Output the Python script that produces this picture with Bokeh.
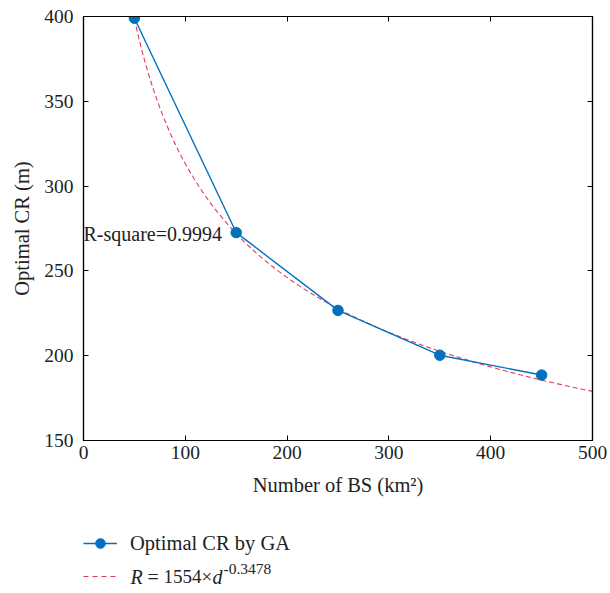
from bokeh.plotting import figure
from bokeh.layouts import column
from bokeh.models import (Range1d, LinearAxis, Label, Legend, LegendItem,
                          FixedTicker)
from bokeh.embed import file_html
from bokeh.resources import INLINE
import numpy as np

# ---- data ----
bs_density = [50, 150, 250, 350, 450]
optimal_cr = [399, 272.6, 226.7, 200.3, 188.6]
# fitted model R = A * d^B (coefficients from legend)
fit_A = 1554
fit_B = -0.3478
fit_d = np.linspace(50, 500, 200)
fit_R = fit_A * fit_d ** fit_B
x_ticks = [0, 100, 200, 300, 400, 500]
y_ticks = [150, 200, 250, 300, 350, 400]
r_square_text = "R-square=0.9994"
series_label = "Optimal CR by GA"

FONT = "Liberation Serif"
BLUE = "#0072BD"
RED = "#DE3A56"
TXT = "#222222"

p = figure(width=610, height=520, output_backend="svg", toolbar_location=None,
           x_range=Range1d(0, 500), y_range=Range1d(150, 400),
           min_border_left=83, min_border_right=18, min_border_top=16,
           min_border_bottom=80)
p.grid.visible = False
p.outline_line_color = "black"
p.outline_line_width = 1.2

for ax in p.xaxis + p.yaxis:
    ax.major_tick_in = 5
    ax.major_tick_out = 0
    ax.minor_tick_line_color = None
    ax.axis_line_color = "black"
    ax.axis_line_width = 1.2
    ax.major_label_text_font = FONT
    ax.major_label_text_font_size = "19.5px"
    ax.major_label_text_color = TXT
    ax.axis_label_text_font = FONT
    ax.axis_label_text_font_size = "20.5px"
    ax.axis_label_text_font_style = "normal"
    ax.axis_label_text_color = TXT
p.xaxis.ticker = FixedTicker(ticks=x_ticks)
p.yaxis.ticker = FixedTicker(ticks=y_ticks)
p.xaxis.axis_label = "Number of BS (km²)"
p.yaxis.axis_label = "Optimal CR (m)"
p.xaxis.major_label_standoff = 5
p.xaxis.axis_label_standoff = 12
p.yaxis.major_label_standoff = 10
p.yaxis.axis_label_standoff = 8

top_ax = LinearAxis(ticker=FixedTicker(ticks=x_ticks), major_tick_in=5,
                    major_tick_out=0, minor_tick_line_color=None,
                    major_label_text_font_size="0px", axis_line_width=1.2)
right_ax = LinearAxis(ticker=FixedTicker(ticks=y_ticks), major_tick_in=5,
                      major_tick_out=0, minor_tick_line_color=None,
                      major_label_text_font_size="0px", axis_line_width=1.2)
p.add_layout(top_ax, "above")
p.add_layout(right_ax, "right")

p.line(fit_d, fit_R, line_color=RED, line_width=1.1, line_dash="5 3")
p.line(bs_density, optimal_cr, line_color=BLUE, line_width=1.4)
p.scatter(bs_density, optimal_cr, size=10.5, fill_color=BLUE, line_color=BLUE)

p.add_layout(Label(x=0, y=272, text=r_square_text, text_font=FONT,
                   text_font_size="20px", text_baseline="middle",
                   text_color=TXT))

# ---- legend strip under the chart (frame aligned with the chart frame) ----
lg = figure(width=610, height=73, output_backend="svg", toolbar_location=None,
            x_range=Range1d(0, 509), y_range=Range1d(73, 0),
            x_axis_type=None, y_axis_type=None,
            min_border_left=83, min_border_right=18, min_border_top=0,
            min_border_bottom=0)
lg.grid.visible = False
lg.outline_line_color = None
# same series, drawn outside this strip's visible range (only used by legend)
d_line = lg.line(bs_density, optimal_cr, line_color=BLUE, line_width=1.4)
d_pts = lg.scatter(bs_density, optimal_cr, size=10.5, fill_color=BLUE,
                   line_color=BLUE)
d_fit = lg.line(fit_d, fit_R, line_color=RED, line_width=1.2, line_dash="5 4")

legend = Legend(items=[
    LegendItem(label=series_label, renderers=[d_line, d_pts]),
    LegendItem(label=" ", renderers=[d_fit]),
], location=(0, 5), orientation="vertical",
    label_text_font=FONT, label_text_font_size="20.5px",
    label_text_color=TXT, glyph_width=34, glyph_height=24,
    label_standoff=13, spacing=9, border_line_color=None,
    background_fill_alpha=0, padding=0, margin=0)
lg.add_layout(legend, "center")

ROW2 = 56
lg.add_layout(Label(x=47, y=ROW2, text="R", text_font=FONT,
                    text_font_style="italic", text_font_size="20px",
                    text_baseline="middle", text_color=TXT))
lg.add_layout(Label(x=64, y=ROW2, text="=", text_font=FONT,
                    text_font_size="20px", text_baseline="middle",
                    text_color=TXT))
lg.add_layout(Label(x=80, y=ROW2, text="1554×", text_font=FONT,
                    text_font_size="19px", text_baseline="middle",
                    text_color=TXT))
lg.add_layout(Label(x=129, y=ROW2, text="d", text_font=FONT,
                    text_font_style="italic", text_font_size="20px",
                    text_baseline="middle", text_color=TXT))
lg.add_layout(Label(x=140, y=ROW2 - 8, text="-0.3478", text_font=FONT,
                    text_font_size="15.5px", text_baseline="middle",
                    text_color=TXT))

open("out.html", "w").write(file_html(column(p, lg), INLINE))
